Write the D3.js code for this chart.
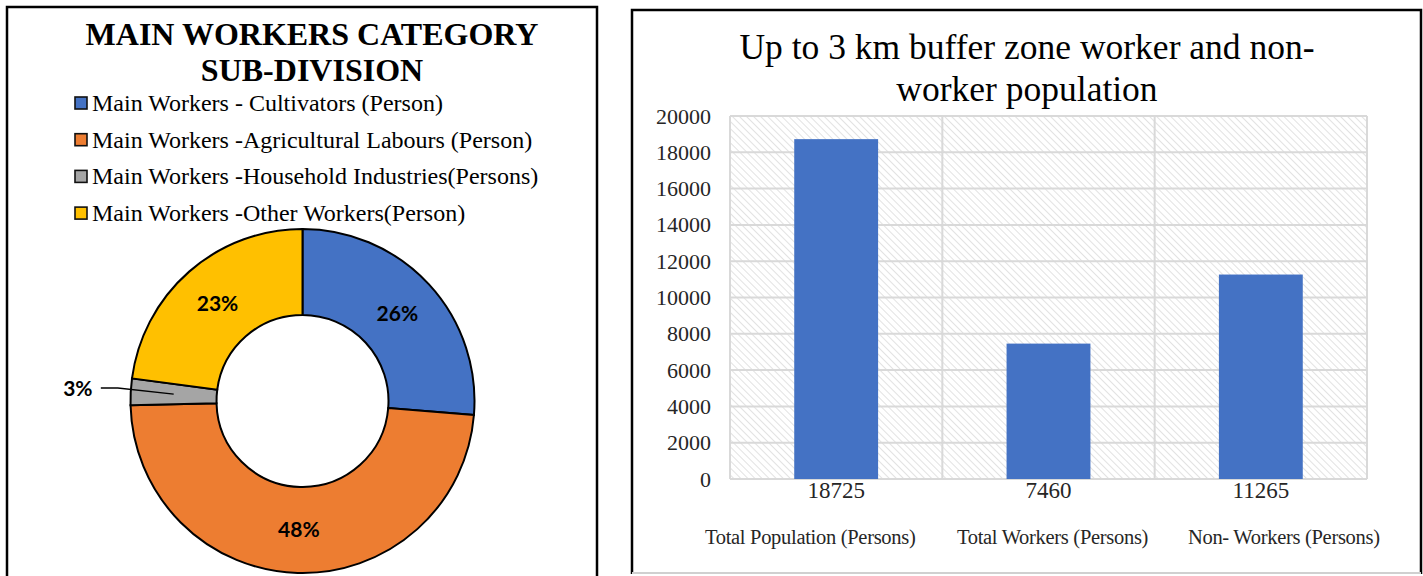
<!DOCTYPE html>
<html>
<head>
<meta charset="utf-8">
<script src="https://cdn.jsdelivr.net/npm/d3@7"></script>
<style>
  body { margin: 0; background: #fff; }
  svg { display: block; }
</style>
</head>
<body>
<div id="chart"></div>
<script>
// donut data (shares in percent)
const donutLabels = [
  "Main Workers - Cultivators (Person)",
  "Main Workers -Agricultural Labours (Person)",
  "Main Workers -Household Industries(Persons)",
  "Main Workers -Other Workers(Person)"
];
const donutValues = [26.3, 48.3, 2.5, 22.9];
const donutColors = ["#4472c4", "#ed7d31", "#a5a5a5", "#ffc000"];

// bar data
const barCategories = ["Total Population (Persons)", "Total Workers (Persons)", "Non- Workers (Persons)"];
const barValues = [18725, 7460, 11265];
const yTicks = [0, 2000, 4000, 6000, 8000, 10000, 12000, 14000, 16000, 18000, 20000];

const width = 1423, height = 576;
const serif = "'Liberation Serif', 'Times New Roman', serif";

const svg = d3.select("#chart").append("svg")
  .attr("width", width)
  .attr("height", height);

// hatch pattern for the plot area
const defs = svg.append("defs");
defs.append("pattern")
  .attr("id", "hatch")
  .attr("patternUnits", "userSpaceOnUse")
  .attr("width", 5)
  .attr("height", 5)
  .attr("patternTransform", "rotate(-45)")
  .append("line")
  .attr("x1", 0).attr("y1", 0)
  .attr("x2", 0).attr("y2", 5)
  .attr("stroke", "#cfcfcf")
  .attr("stroke-width", 1.2);

// ---------- left panel: donut ----------
svg.append("rect")
  .attr("x", 7).attr("y", 7)
  .attr("width", 590).attr("height", 580)
  .attr("fill", "none")
  .attr("stroke", "#000")
  .attr("stroke-width", 2.5);

const left = svg.append("g");

left.selectAll("text.title")
  .data(["MAIN WORKERS CATEGORY", "SUB-DIVISION"])
  .join("text")
  .attr("class", "title")
  .attr("x", 312)
  .attr("y", (d, i) => 45 + i * 36)
  .attr("text-anchor", "middle")
  .style("font-family", serif)
  .style("font-weight", "bold")
  .style("font-size", "32px")
  .text(d => d);

const legend = left.selectAll("g.legend")
  .data(donutLabels)
  .join("g")
  .attr("class", "legend")
  .attr("transform", (d, i) => `translate(75, ${103 + i * 36.7})`);

legend.append("rect")
  .attr("x", 0).attr("y", -6)
  .attr("width", 12).attr("height", 12)
  .attr("fill", (d, i) => donutColors[i])
  .attr("stroke", "#111")
  .attr("stroke-width", 1.6);

legend.append("text")
  .attr("x", 17)
  .attr("y", 8)
  .style("font-family", serif)
  .style("font-size", "24px")
  .text(d => d);

const cx = 302.5, cy = 401, outerR = 172, innerR = 86;

const pie = d3.pie().sort(null).value(d => d);
const arcs = pie(donutValues);
const arc = d3.arc().innerRadius(innerR).outerRadius(outerR);

const donut = left.append("g").attr("transform", `translate(${cx},${cy})`);

donut.selectAll("path")
  .data(arcs)
  .join("path")
  .attr("d", arc)
  .attr("fill", (d, i) => donutColors[i])
  .attr("stroke", "#000")
  .attr("stroke-width", 2);

const pct = d => Math.round(d.data) + "%";
const labelFont = "Lato, 'Open Sans', sans-serif";

// labels inside the ring for larger slices
donut.selectAll("text.in")
  .data(arcs.filter(d => d.data > 5))
  .join("text")
  .attr("class", "in")
  .attr("transform", d => `translate(${arc.centroid(d)})`)
  .attr("text-anchor", "middle")
  .attr("dy", "0.35em")
  .style("font-family", labelFont)
  .style("font-weight", "bold")
  .style("font-size", "21px")
  .text(pct);

// small slice label outside with a leader line
const small = arcs.filter(d => d.data <= 5);
const outArc = d3.arc().innerRadius(225).outerRadius(225);
small.forEach(d => {
  const [lx, ly] = outArc.centroid(d);
  const [px, py] = arc.centroid(d);
  donut.append("path")
    .attr("d", d3.line()([[lx + 23, ly - 1], [lx + 40, ly - 1], [px, py]]))
    .attr("fill", "none")
    .attr("stroke", "#000")
    .attr("stroke-width", 1.3);
  donut.append("text")
    .attr("x", lx)
    .attr("y", ly)
    .attr("text-anchor", "middle")
    .attr("dy", "0.35em")
    .style("font-family", labelFont)
    .style("font-weight", "bold")
    .style("font-size", "21px")
    .text(pct(d));
});

// ---------- right panel: bars ----------
svg.append("path")
  .attr("d", "M632,574 V10 H1421 V574")
  .attr("fill", "none")
  .attr("stroke", "#000")
  .attr("stroke-width", 2.5);
svg.append("line")
  .attr("x1", 632).attr("x2", 1421)
  .attr("y1", 573).attr("y2", 573)
  .attr("stroke", "#d0d0d0")
  .attr("stroke-width", 2);

const right = svg.append("g");

right.selectAll("text.title")
  .data(["Up to 3 km buffer zone worker and non-", "worker population"])
  .join("text")
  .attr("class", "title")
  .attr("x", 1027)
  .attr("y", (d, i) => 59 + i * 42)
  .attr("text-anchor", "middle")
  .style("font-family", serif)
  .style("font-size", "35.5px")
  .text(d => d);

const plot = { left: 730, right: 1367, top: 116, bottom: 479 };

const x = d3.scaleBand()
  .domain(barCategories)
  .range([plot.left, plot.right])
  .paddingInner(0)
  .paddingOuter(0);

const y = d3.scaleLinear()
  .domain([0, 20000])
  .range([plot.bottom, plot.top]);

right.append("rect")
  .attr("x", plot.left).attr("y", plot.top)
  .attr("width", plot.right - plot.left)
  .attr("height", plot.bottom - plot.top)
  .attr("fill", "url(#hatch)");

// horizontal gridlines
right.selectAll("line.hgrid")
  .data(yTicks)
  .join("line")
  .attr("class", "hgrid")
  .attr("x1", plot.left).attr("x2", plot.right)
  .attr("y1", d => y(d)).attr("y2", d => y(d))
  .attr("stroke", "#d9d9d9")
  .attr("stroke-width", 2);

// vertical gridlines at category boundaries
const bounds = barCategories.map(c => x(c)).concat([plot.right]);
right.selectAll("line.vgrid")
  .data(bounds)
  .join("line")
  .attr("class", "vgrid")
  .attr("x1", d => d).attr("x2", d => d)
  .attr("y1", plot.top).attr("y2", plot.bottom)
  .attr("stroke", "#d9d9d9")
  .attr("stroke-width", 2);

const barW = x.bandwidth() * 0.395;
right.selectAll("rect.bar")
  .data(barValues)
  .join("rect")
  .attr("class", "bar")
  .attr("x", (d, i) => x(barCategories[i]) + (x.bandwidth() - barW) / 2)
  .attr("y", d => y(d))
  .attr("width", barW)
  .attr("height", d => y(0) - y(d))
  .attr("fill", "#4472c4");

// y axis labels
const yAxis = d3.axisLeft(y).tickValues(yTicks).tickSize(0).tickPadding(0).tickFormat(d3.format("d"));
const yg = right.append("g")
  .attr("transform", `translate(711,0)`)
  .call(yAxis);
yg.select(".domain").remove();
yg.selectAll("text")
  .style("font-family", serif)
  .style("font-size", "22px")
  .attr("fill", "#262626");

// category labels: value on top, name underneath
const xg = right.selectAll("g.cat")
  .data(barCategories)
  .join("g")
  .attr("class", "cat")
  .attr("transform", d => `translate(${x(d) + x.bandwidth() / 2},0)`);

xg.append("text")
  .attr("y", 498)
  .attr("text-anchor", "middle")
  .style("font-family", serif)
  .style("font-size", "23px")
  .attr("fill", "#262626")
  .text((d, i) => barValues[i]);

// the wrapped names sit a little off-centre in the original
const nameShift = [-26, 4, 23];
xg.append("text")
  .attr("x", (d, i) => nameShift[i])
  .attr("y", 544)
  .attr("text-anchor", "middle")
  .style("font-family", serif)
  .style("font-size", "20.5px")
  .style("letter-spacing", "-0.3px")
  .attr("fill", "#262626")
  .text(d => d);
</script>
</body>
</html>
